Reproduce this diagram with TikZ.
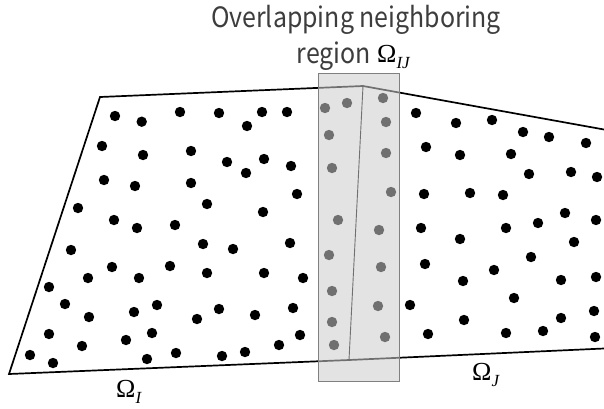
\documentclass[tikz,border=0pt]{standalone}
\usepackage{fontspec}
\newfontfamily\jpfont[FakeStretch=0.89]{Noto Sans CJK JP}
\newfontfamily\tnr{Liberation Serif}
\definecolor{txt}{gray}{0.24}
\definecolor{rectfill}{gray}{0.8}
\definecolor{rectedge}{gray}{0.5}
\newcommand{\omegasub}[1]{{\tnr\fontsize{26}{30}\selectfont Ω}\raisebox{-6pt}{\tnr\itshape\fontsize{17}{20}\selectfont #1}}
\begin{document}
\begin{tikzpicture}[x=1pt,y=-1pt,
  dot/.style={fill=black,draw=none},
  edge/.style={line width=1.7pt,line join=miter},
  divider/.style={line width=0.9pt},
  overlap/.style={fill=rectfill,fill opacity=0.55,draw=rectedge,draw opacity=1,line width=0.9pt},
  lbl/.style={font=\jpfont\fontsize{28}{34}\selectfont,text=txt,inner sep=0pt},
  omega/.style={inner sep=0pt}]
\useasboundingbox (0,0) rectangle (604,408);
\fill[white] (0,0) rectangle (604,408);
% corner coordinates
\coordinate (tl) at (100,97);
\coordinate (bl) at (9,374);
\coordinate (tm) at (363,86);
\coordinate (bm) at (349,360);
\coordinate (tr) at (604,129.5);
\coordinate (br) at (604,348.5);
\draw[edge] (tr) -- (tm) -- (tl) -- (bl) -- (bm) -- (br);
\draw[divider] (tm) -- (bm);
% dots
\foreach \x/\y in {115/116,141.7/121.7,180/112,219/113,247/126,262/112,287/112,
 102/146,143/155,191/151,227/162,264/159,246/173,291/166,104/180,135/186,191/183,
 297/194,207/204,78/208,263/212,114/220,137/228,175/225,203/244,233/249,290/243,
 71/250,112/267,170/266,139/278,207/273,264/273,303/278,88/278,49/287,65/304,
 89/317,134/312,157/305,197/319,219/309,255/315,293/308,49/334,82/346,126/340,
 152/333,300/335,279/345,30/355,53/363,147/359,176/353,222/356,245/352,
 325/108,347/103,383/98,329/135,386/122,332/168,386/153,391/192,338/220,379/230,
 329/255,381/267,332/291,378/306,332/322,385/337,334/345,
 416/113,456/123,492/120,523/132,549/137,586/143,426/147,460/155,511/154,
 529/174,571/172,597/177,424/194,470/193,503/195,565/213,538/223,596/220,
 421/228,506/228,460/239,574/242,425/264,531/257,494/270,463/281,561/280,
 596/277,410/305,514/298,464/320,594/311,561/318,543/331,428/334,506/333,595/337}
  \fill[dot] (\x,\y) circle (5.2);
% overlapping region
\draw[overlap] (318,73) rectangle (399,381);
% labels
\node[lbl] (title1) at (356,20) {Overlapping neighboring};
\node[lbl,anchor=base east] (title2) at (371,63) {region};
\node[omega,anchor=base west] (omegaIJ) at (377,62) {\omegasub{IJ}};
\node[omega,anchor=base west] (omegaI) at (116,397) {\omegasub{I}};
\node[omega,anchor=base west] (omegaJ) at (472,380) {\omegasub{J}};
\end{tikzpicture}
\end{document}
